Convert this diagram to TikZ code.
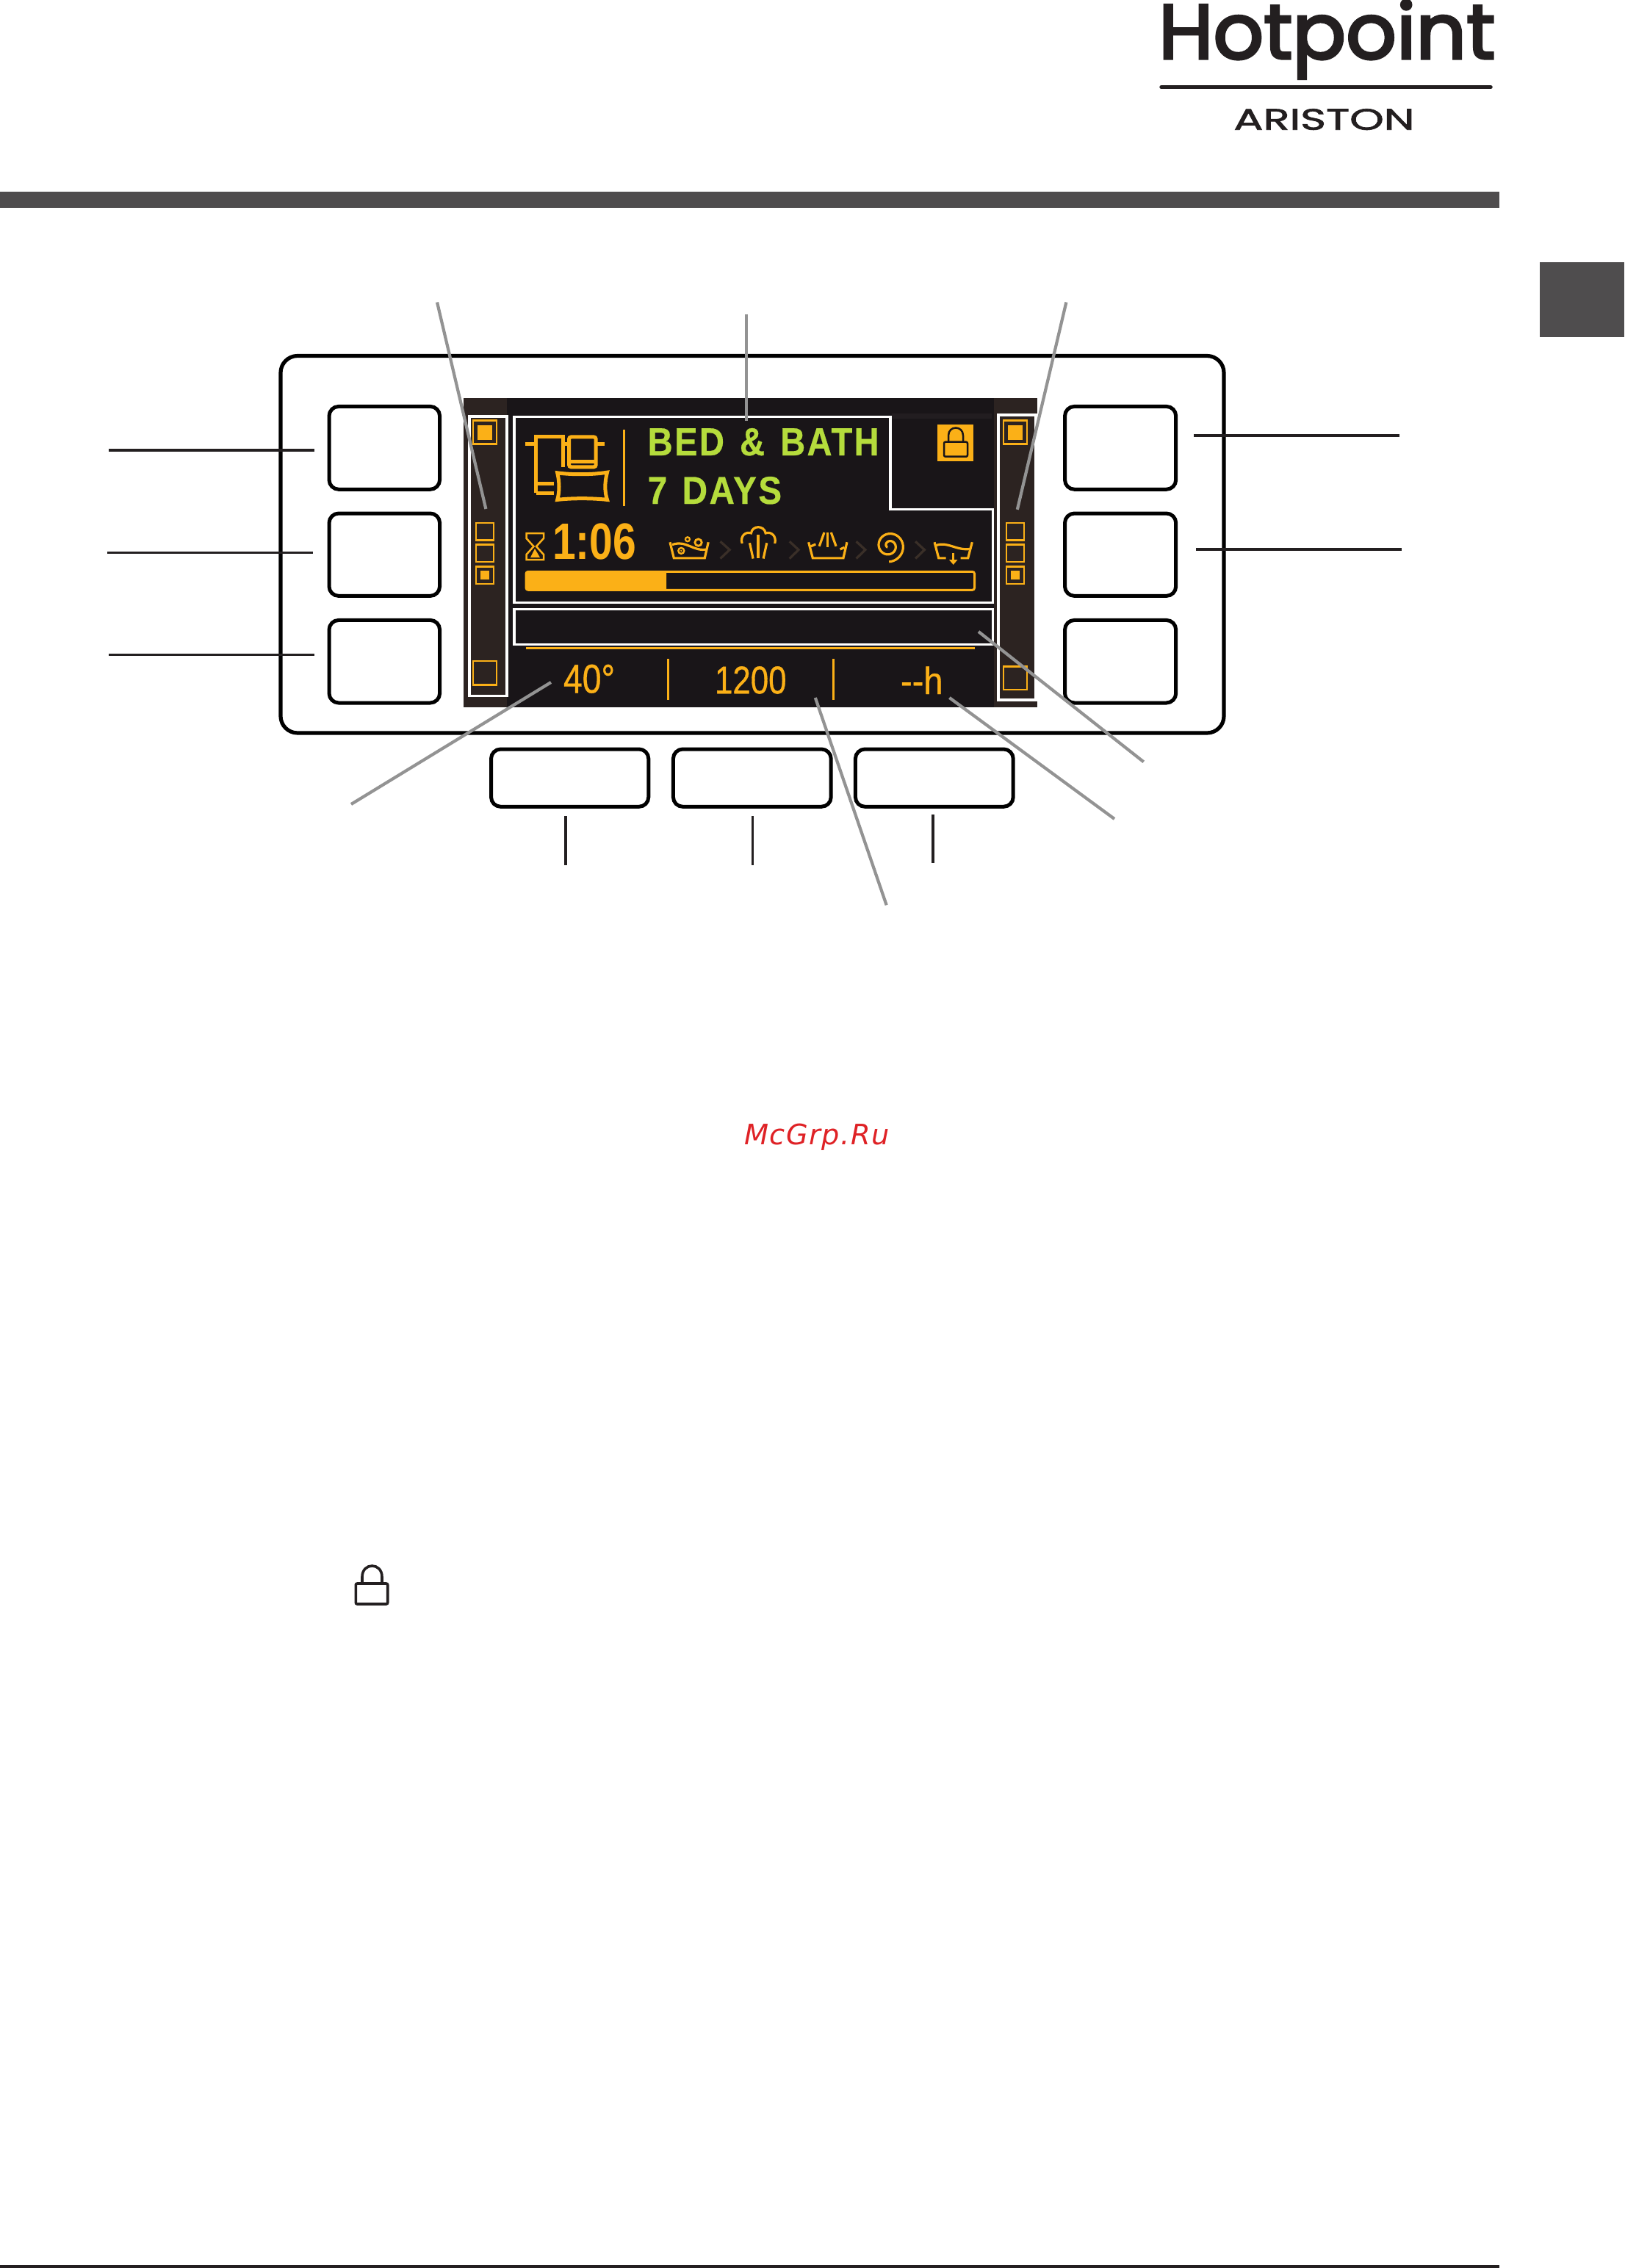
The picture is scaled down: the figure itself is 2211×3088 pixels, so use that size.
\documentclass[tikz,border=0pt]{standalone}
\usepackage{fontspec}
\usepackage{graphicx}
\setmainfont{Liberation Sans}
\newfontfamily\logofont[FakeBold=3.2]{Poppins}
\newfontfamily\aristfont[FakeBold=1.6]{Poppins}
\newfontfamily\segfont[FakeBold=0.7]{Liberation Sans}
\newfontfamily\limefont[FakeBold=0.5,LetterSpace=5]{Liberation Sans Bold}
\newfontfamily\markfont{DejaVu Sans}
\definecolor{ora}{HTML}{FBB017}
\definecolor{lime}{HTML}{B5DC3C}
\definecolor{scr}{HTML}{191518}
\definecolor{strip}{HTML}{2C2321}
\definecolor{band}{HTML}{221D20}
\definecolor{ink}{HTML}{231F20}
\definecolor{bar}{HTML}{4F4D4E}
\definecolor{lead}{HTML}{939393}
\definecolor{chev}{HTML}{3A2F28}
\definecolor{mark}{HTML}{DF2226}
\tikzset{
  btn/.style={draw=black,line width=0.05cm,rounded corners=0.13cm,fill=white},
  frm/.style={draw=white,line width=0.031cm},
  blk/.style={draw=ink,line width=0.035cm},
  leadline/.style={draw=lead,line width=0.042cm},
  osq/.style={draw=ora,line width=0.027cm,fill=strip},
  ofl/.style={fill=ora},
  ico/.style={draw=ora,line width=0.032cm},
  chv/.style={draw=chev,line width=0.032cm},
  txt/.style={inner sep=0pt,outer sep=0pt,anchor=base west}
}
\begin{document}
\begin{tikzpicture}[x=0.01cm,y=-0.01cm]
\useasboundingbox (0,0) rectangle (2211,3088);
\fill[white] (0,0) rectangle (2211,3088);
% header and page marks
\fill[bar] (0,261) rectangle (2041,283);
\fill[bar] (2096,357) rectangle (2211,459);
\fill[ink] (0,3084) rectangle (2041,3088);
\node[txt,text=ink] (logo) at (1577,80) {\resizebox{4.58cm}{0.80cm}{\logofont Hotpoint}};
\draw[ink,line width=0.055cm,line cap=round] (1581,118.7) -- (2029,118.7);
\node[txt,text=ink] (ariston) at (1679.4,176.7) {\resizebox{2.46cm}{0.285cm}{\aristfont ARISTON}};
% panel outline and buttons
\draw[draw=black,line width=0.052cm,rounded corners=0.23cm] (382,484.5) rectangle (1666,998);
\foreach \ya/\yb in {553.4/666.3,699/811.4,844.4/957}{
  \draw[btn] (448,\ya) rectangle (598.6,\yb);
  \draw[btn] (1449.5,\ya) rectangle (1600.7,\yb);
}
\draw[btn] (668.5,1020) rectangle (882.8,1098.3);
\draw[btn] (916.4,1020) rectangle (1131.2,1098.3);
\draw[btn] (1164.4,1020) rectangle (1379.2,1098.3);
% screen
\fill[scr] (631,542) rectangle (1412,963.3);
\fill[strip] (631,542) rectangle (690,963.3);
\fill[strip] (1353,542) rectangle (1412,963.3);
\fill[band] (1214,563) rectangle (1350,570);
\draw[frm] (639,567) rectangle (690,947.7);
\draw[frm] (1359,565) rectangle (1410,953);
\draw[frm] (700,567.3) -- (1212,567.3) -- (1212,693.3) -- (1351.5,693.3) -- (1351.5,820.3) -- (700,820.3) -- cycle;
\draw[frm] (700,829.3) rectangle (1351.5,877.3);
% indicators
\foreach \xa/\xb/\ya/\yb in {644/676/900/932.3,1366/1398/907.3/939,648/672/712/735.3,648/672/741.3/765,1370/1394/712/735.3,1370/1394/741.3/765}{
  \draw[osq] (\xa,\ya) rectangle (\xb,\yb);
}
\foreach \xa/\xb/\ya/\yb in {644/676/572.7/604.7,1366/1398/572.7/604.7,648/672/771.3/795,1370/1394/771.3/795}{
  \draw[osq] (\xa,\ya) rectangle (\xb,\yb);
  \fill[ofl] (\xa+6,\ya+6) rectangle (\xb-6,\yb-6);
}
% orange lock
\fill[ofl] (1276,578) rectangle (1325,627.7);
\draw[scr,line width=0.025cm,rounded corners=0.02cm] (1285,601.7) rectangle (1317,621.7);
\draw[scr,line width=0.025cm] (1291,601) -- (1291,593) .. controls (1291,579) and (1311,579) .. (1311,593) -- (1311,601);
% programme icon, drawn in the crop's units
\begin{scope}[shift={(620,530)},x=0.0051cm,y=-0.00333cm]
  \tikzset{ico/.style={draw=ora,line width=0.05cm}}
  \draw[ico] (215,425) -- (215,195) -- (288,195) -- (288,320);
  \draw[ico] (215,425) -- (262,425);
  \draw[ico] (215,385) -- (262,385);
  \draw[ico] (187,225) -- (215,225);
  \draw[ico] (288,225) -- (305,225);
  \draw[ico] (375,225) -- (398,225);
  \draw[ico,rounded corners=0.03cm] (303,195) rectangle (375,318);
  \draw[ico] (303,297) -- (375,297);
  \draw[ico] (272,342) .. controls (310,350) and (365,350) .. (405,340) .. controls (398,380) and (398,420) .. (405,452) .. controls (365,445) and (310,445) .. (272,452) .. controls (278,420) and (278,380) .. (272,342) -- cycle;
\end{scope}
\draw[ora,line width=0.028cm] (849.6,585) -- (849.6,688.7);
% texts
\node[txt,text=lime] (bed) at (881.7,620) {\resizebox{3.148cm}{0.37cm}{\limefont BED\hspace{0.12em} \&\hspace{0.12em} BATH}};
\node[txt,text=lime] (days) at (881.7,686) {\resizebox{1.823cm}{0.37cm}{\limefont 7\hspace{0.1em} DAYS}};
\node[txt,text=ora] (time) at (752,761.7) {\resizebox{1.14cm}{0.487cm}{\bfseries 1:06}};
% hourglass
\draw[ico,line width=0.025cm] (716.5,726) -- (740,726) -- (740,733) -- (730,744) -- (740,755) -- (740,762) -- (716.5,762) -- (716.5,755) -- (726.5,744) -- (716.5,733) -- cycle;
\fill[ofl] (722,759) -- (728,747) -- (735,759) -- cycle;
% cycle icons, drawn in the crop's units
\begin{scope}[shift={(900,690)},x=0.00333cm,y=-0.00333cm]
  % wash
  \draw[ico] (36,145) -- (52,210) -- (178,210) -- (193,145);
  \draw[ico] (45,155) .. controls (105,135) and (130,185) .. (188,174);
  \draw[ora,line width=0.022cm] (108,133) circle (9);
  \draw[ora,line width=0.028cm] (152,146) circle (14);
  \draw[ora,line width=0.024cm] (82,180) circle (12);
  \fill[ofl] (82,180) circle (4);
  \draw[chv] (242,142) -- (280,176) -- (242,212);
  % steam
  \draw[ico] (331,150) .. controls (322,120) and (345,100) .. (368,108) .. controls (372,75) and (422,75) .. (427,108) .. controls (450,100) and (473,120) .. (465,150);
  \draw[ico,line width=0.036cm] (397,115) -- (397,211);
  \draw[ico] (362,148) -- (376,212);
  \draw[ico] (432,148) -- (418,212);
  \draw[chv] (525,142) -- (562,176) -- (525,212);
  % rinse
  \draw[ico] (603,145) -- (620,210) -- (745,210) -- (760,145);
  \draw[ico] (612,162) -- (632,153);
  \draw[ico] (750,166) -- (732,174);
  \draw[ico,dash pattern=on 0.2cm off 0.1cm] (667,105) -- (640,180);
  \draw[ico,dash pattern=on 0.2cm off 0.1cm] (695,105) -- (722,180);
  \draw[ico,dash pattern=on 0.2cm off 0.1cm] (680,106) -- (680,186);
  \draw[chv] (798,142) -- (835,176) -- (798,212);
  % spin
  \draw[ico] plot[smooth,domain=-585:90,samples=80] ({932+(8+(\x+585)/675*57)*cos(\x)},{160+(8+(\x+585)/675*57)*sin(\x)});
  \draw[chv] (1040,142) -- (1077,176) -- (1040,212);
  % drain
  \draw[ico] (1118,145) -- (1135,210) -- (1165,210);
  \draw[ico] (1225,210) -- (1255,210) -- (1272,145);
  \draw[ico] (1125,158) .. controls (1170,140) and (1210,182) .. (1266,172);
  \draw[ico,line width=0.034cm] (1195,188) -- (1195,222);
  \fill[ofl] (1178,217) -- (1212,217) -- (1195,237) -- cycle;
\end{scope}
% progress bar
\draw[ico,line width=0.03cm,rounded corners=0.03cm] (716,778.3) rectangle (1326.6,803.3);
\fill[ofl,rounded corners=0.02cm] (716,778.3) -- (907.2,778.3) -- (907.2,803.3) -- (716,803.3) -- cycle;
% lower row
\draw[ora,line width=0.032cm] (716,882.3) -- (1327,882.3);
\draw[ora,line width=0.03cm] (909.3,897.3) -- (909.3,952.7);
\draw[ora,line width=0.03cm] (1134.3,897.3) -- (1134.3,952.7);
\node[txt,text=ora] (temp) at (767,943.3) {\resizebox{0.70cm}{0.385cm}{\segfont 40°}};
\node[txt,text=ora] (spin) at (973,944.3) {\resizebox{0.975cm}{0.37cm}{\segfont 1200}};
\node[txt,text=ora] (dur) at (1226,945) {\resizebox{0.575cm}{0.375cm}{\segfont -{}-h}};
% leaders
\coordinate (la) at (595,411.5);   \coordinate (lb) at (661.4,693);
\coordinate (ma) at (1016,428);    \coordinate (mb) at (1016,572.7);
\coordinate (ra) at (1451.4,411.5);\coordinate (rb) at (1384.8,693.8);
\coordinate (ta) at (478,1095);    \coordinate (tb) at (750,929);
\coordinate (sa) at (1206.7,1232.3);\coordinate (sb) at (1109.8,950);
\coordinate (da) at (1517,1115);   \coordinate (db) at (1292.4,950);
\coordinate (pa) at (1556.7,1037.3);\coordinate (pb) at (1332,860);
\draw[leadline] (la) -- (lb);
\draw[leadline] (ma) -- (mb);
\draw[leadline] (ra) -- (rb);
\draw[leadline] (ta) -- (tb);
\draw[leadline] (sa) -- (sb);
\draw[leadline] (da) -- (db);
\draw[leadline] (pa) -- (pb);
% black ticks
\draw[blk] (148,613) -- (428,613);
\draw[blk] (146,752.6) -- (426,752.6);
\draw[blk] (148,891.3) -- (428,891.3);
\draw[blk] (1625,592.8) -- (1905,592.8);
\draw[blk] (1628,748) -- (1908,748);
\draw[blk] (770,1111) -- (770,1177.7);
\draw[blk] (1024.6,1111) -- (1024.6,1177.7);
\draw[blk] (1270,1109) -- (1270,1175);
% watermark
\node[txt,text=mark] (wm) at (1013,1558) {\markfont\itshape\addfontfeature{LetterSpace=4}\fontsize{10.9pt}{13pt}\selectfont McGrp.Ru};
% lock symbol
\draw[ink,line width=0.036cm,rounded corners=0.02cm] (484.3,2156) rectangle (527.7,2184);
\draw[ink,line width=0.036cm] (493,2155) -- (493,2147) .. controls (493,2127) and (520,2127) .. (520,2147) -- (520,2155);
\end{tikzpicture}
\end{document}
